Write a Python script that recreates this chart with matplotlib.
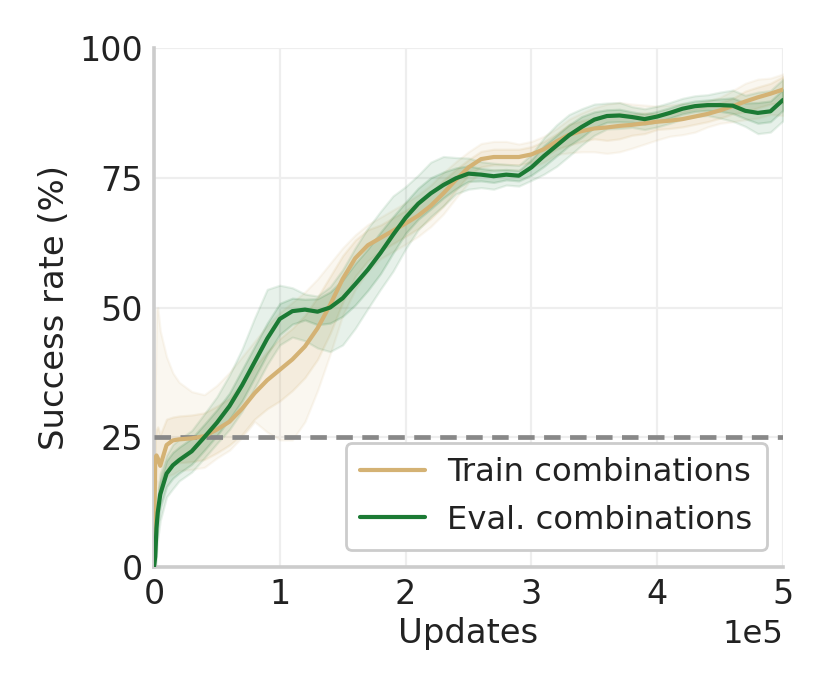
import numpy as np
import matplotlib
matplotlib.use("Agg")
import matplotlib.pyplot as plt

# x positions in units of 1e5 updates
updates = [0, 0.01, 0.02, 0.03, 0.05, 0.1, 0.15, 0.2, 0.3, 0.4, 0.5, 0.6, 0.7, 0.8, 0.9,
           1.0, 1.1, 1.2, 1.3, 1.4, 1.5, 1.6, 1.7, 1.8, 1.9, 2.0, 2.1, 2.2, 2.3, 2.4,
           2.5, 2.6, 2.7, 2.8, 2.9, 3.0, 3.1, 3.2, 3.3, 3.4, 3.5, 3.6, 3.7, 3.8, 3.9,
           4.0, 4.1, 4.2, 4.3, 4.4, 4.5, 4.6, 4.7, 4.8, 4.9, 5.0]

train_mean = [1, 21, 21.5, 21, 19.5, 23.5, 24.4, 24.6, 24.8, 25.2, 26.5, 28, 30.5, 33.5, 36,
              38, 40, 42.5, 46, 50.5, 55.5, 59.5, 62, 63.4, 64.8, 66.2, 67.7, 69.6, 72, 74.6,
              77, 78.6, 79, 79, 79, 79.5, 80.5, 82, 83.3, 84, 84.5, 84.7, 85, 85.2, 85.5,
              85.8, 86, 86.3, 86.8, 87.3, 88, 88.8, 89.7, 90.5, 91.2, 92]
train_in = [0.5, 4, 5, 6, 6, 5, 4.5, 4.5, 4.5, 4.5, 4.5, 4.5, 5, 5, 5.5,
            6, 6, 6, 6, 5.5, 4.5, 3.5, 3, 2.5, 2.5, 2.5, 2.5, 2.5, 2.5, 2,
            1.5, 1.5, 1.5, 1.5, 1.5, 1.5, 1.5, 1.5, 2, 2, 2, 2.5, 2.5, 2, 2,
            1.5, 1.5, 1.5, 1.5, 1.5, 1.5, 1.5, 2, 2, 2, 2.5]
train_out_lo = [1, 8, 8, 7, 5, 6, 6.5, 6, 6, 6, 5.5, 5.5, 5.5, 5.5, 10,
                13.5, 15.5, 14.5, 12, 9.5, 7, 6, 5, 4, 4, 4, 4, 4, 4, 3.5,
                3, 2.5, 2.5, 2.5, 2.5, 2.5, 2.5, 2.5, 3.5, 4, 4.5, 5, 5, 4.5, 4,
                3.5, 3, 3, 3, 2.5, 2.5, 3, 3.5, 4, 4, 5]
train_out_hi = [2, 14, 28, 29, 26, 17, 13, 11, 9, 8, 8.5, 9.5, 10, 10, 10.5,
                11, 11, 10.5, 9.5, 8, 6, 4.5, 4, 4, 4, 4, 4, 4, 4, 3.5,
                3, 3, 3, 3, 2.5, 2.5, 2.5, 2.5, 3, 3.5, 4, 4.5, 4.5, 4, 3.5,
                3, 3, 3, 2.5, 2.5, 2.5, 3, 3.5, 3.5, 3, 3]

eval_mean = [0, 2, 7.5, 10.5, 14, 18, 19.6, 20.6, 22.3, 25, 27.8, 31, 35, 39.5, 44,
             47.8, 49.3, 49.6, 49.2, 50, 51.8, 54.5, 57.3, 60.5, 64, 67.3, 70, 72, 73.6, 74.9,
             75.8, 75.6, 75.3, 75.6, 75.4, 77, 79.2, 81.2, 83.2, 84.8, 86.2, 86.9, 87, 86.7, 86.3,
             86.8, 87.5, 88.3, 88.8, 89, 89, 88.9, 87.9, 87.5, 87.8, 90]
eval_in = [0, 2, 2.5, 2.5, 2.5, 2.5, 2.5, 2.5, 2.5, 2.5, 2.5, 2.5, 3, 3, 3,
           3, 2.5, 2, 2.5, 3, 3.5, 4, 4, 4, 3.5, 3, 3, 3, 2.5, 2,
           1.5, 1.2, 1.2, 1, 1, 1.5, 2, 2, 2, 2, 1.5, 1.2, 1.2, 1, 1,
           1, 1, 1, 1, 1, 1.2, 1.5, 1.5, 2, 2, 2]
eval_out_lo = [0, 4, 5, 5, 5, 4.5, 4.5, 4, 4, 4, 4, 4.5, 5, 5, 5,
               5, 5, 6, 7, 8.5, 9, 8.5, 7.5, 7, 7, 6, 5, 4.5, 4, 3,
               3, 2.5, 2.5, 2, 2, 2.5, 3.5, 4, 4, 3.5, 3, 2.5, 2.5, 2, 2,
               2, 2, 2, 2, 2, 2.5, 3, 3, 4, 4, 4]
eval_out_hi = [0, 3, 4, 4, 4, 3.5, 4, 4, 4, 4.5, 5, 6, 7, 8.5, 9.5,
               6.5, 4.5, 3, 3, 4, 5.5, 7, 8, 8, 7.5, 6, 5.5, 6, 5.5, 4,
               3, 2.5, 2.5, 2, 2, 2.5, 3.5, 4, 4, 3.5, 3, 2.5, 2.5, 2, 2,
               2, 2, 2, 2, 2, 2.5, 3, 3, 4, 4, 4]

chance_level = 25
y_ticks = [0, 25, 50, 75, 100]
x_ticks = [0, 1, 2, 3, 4, 5]
series_labels = ["Train combinations", "Eval. combinations"]

TAN = "#D4B274"
GREEN = "#1B7A34"
TEXT = "#222222"
FS_TICK = 12
FS_LABEL = 12.2
FS_LEG = 11.6

fig = plt.figure(figsize=(4.15, 3.46), dpi=200)
ax = fig.add_axes([0.1855, 0.1806, 0.7579, 0.75])

x = np.array(updates) * 1e5

def draw(mean, w_in, lo, hi, color, label):
    m = np.array(mean)
    ax.fill_between(x, m - np.array(lo), m + np.array(hi), color=color,
                    alpha=0.1, linewidth=0.8, zorder=2)
    ax.fill_between(x, m - np.array(w_in), m + np.array(w_in), color=color,
                    alpha=0.15, linewidth=0.8, zorder=2)
    ax.plot(x, m, color=color, linewidth=1.5, label=label, zorder=4,
            solid_capstyle="round", solid_joinstyle="round")

draw(train_mean, train_in, train_out_lo, train_out_hi, TAN, series_labels[0])
draw(eval_mean, eval_in, eval_out_lo, eval_out_hi, GREEN, series_labels[1])

ax.axhline(chance_level, color="#888888", linestyle=(0, (3.5, 2)), linewidth=1.7, zorder=3)

ax.set_xlim(0, 5e5)
ax.set_ylim(0, 100)
ax.set_xticks(np.array(x_ticks) * 1e5)
ax.set_yticks(y_ticks)
ax.ticklabel_format(axis="x", style="sci", scilimits=(0, 0))
ax.xaxis.get_offset_text().set_fontsize(FS_LEG)
ax.xaxis.get_offset_text().set_color(TEXT)

ax.grid(True, color="#eeeeee", linewidth=0.8, zorder=0)
ax.set_axisbelow(True)
for s in ["top", "right"]:
    ax.spines[s].set_visible(False)
for s in ["left", "bottom"]:
    ax.spines[s].set_color("#cccccc")
    ax.spines[s].set_linewidth(1.3)
ax.tick_params(axis="both", length=0, labelsize=FS_TICK, colors=TEXT, pad=4)

ax.set_xlabel("Updates", fontsize=FS_LABEL, color=TEXT, labelpad=2)
ax.set_ylabel("Success rate (%)", fontsize=FS_LABEL, color=TEXT, labelpad=3)

leg = ax.legend(loc="lower right", fontsize=FS_LEG, frameon=True, fancybox=True,
                handlelength=2.0, borderpad=0.45, labelspacing=0.5, handletextpad=0.7,
                borderaxespad=0, bbox_to_anchor=(0.9746, 0.0328))
leg.get_frame().set_edgecolor("#cccccc")
leg.get_frame().set_linewidth(1.0)
leg.get_frame().set_alpha(1.0)
for line in leg.get_lines():
    line.set_linewidth(1.5)
for t in leg.get_texts():
    t.set_color(TEXT)

fig.savefig("out.png", dpi=200)
